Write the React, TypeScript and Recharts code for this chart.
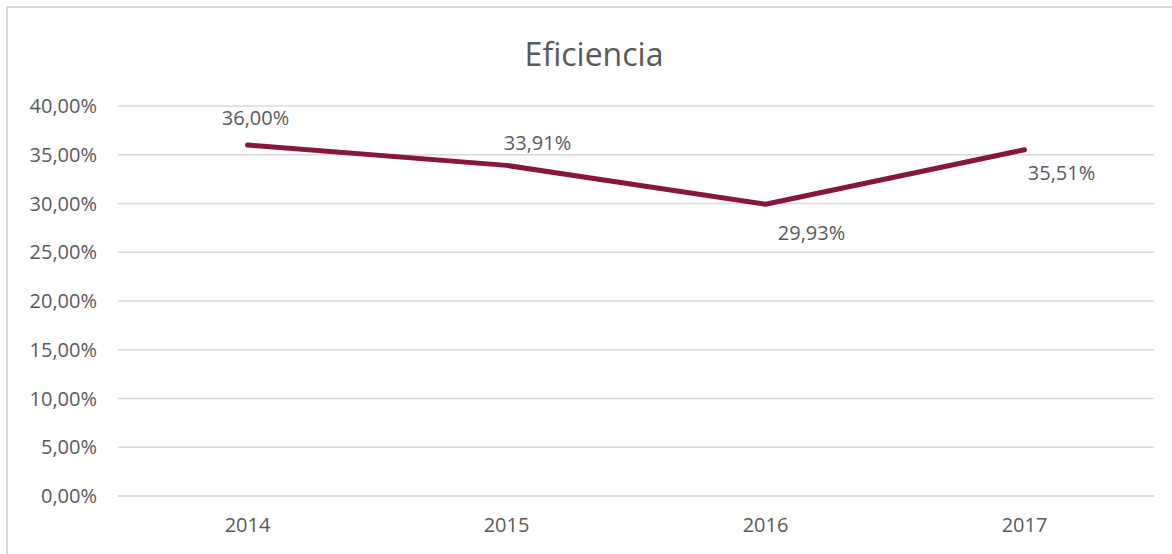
import { LineChart, Line, XAxis, YAxis, CartesianGrid, LabelList } from 'recharts';

// años y eficiencia (fracción)
const years = ['2014', '2015', '2016', '2017'];
const eficiencia = [0.36, 0.3391, 0.2993, 0.3551];
const yTicks = [0, 0.05, 0.1, 0.15, 0.2, 0.25, 0.3, 0.35, 0.4];

const data = years.map((year, i) => ({ year, value: eficiencia[i] }));

// desplazamiento de cada etiqueta respecto a su punto
const LABEL_OFFSETS = [
    { dx: 8, dy: -28 },
    { dx: 31, dy: -23 },
    { dx: 46, dy: 28 },
    { dx: 37, dy: 23 },
];

const TEXT = '#595959';
const FONT = '"Open Sans", sans-serif';

const fmt = (v: number) => (v * 100).toFixed(2).replace('.', ',') + '%';

const renderLabel = (props: any) => {
    const { x, y, value, index } = props;
    const off = LABEL_OFFSETS[index] || { dx: 0, dy: -20 };
    return (
        <text
            x={x + off.dx}
            y={y + off.dy}
            textAnchor="middle"
            dominantBaseline="central"
            fill={TEXT}
            fontSize={20}
            fontFamily={FONT}
        >
            {fmt(value)}
        </text>
    );
};

export default function App() {
    return (
        <div
            style={{
                position: 'absolute',
                left: 6,
                top: 6,
                borderLeft: '2px solid #d9d9d9',
                borderTop: '2px solid #d9d9d9',
                width: 1164,
                height: 548,
                background: '#fff',
            }}
        >
            <div
                style={{
                    position: 'absolute',
                    left: 0,
                    width: 1172,
                    top: 24,
                    textAlign: 'center',
                    fontFamily: FONT,
                    fontSize: 32,
                    color: TEXT,
                }}
            >
                Eficiencia
            </div>
            <LineChart
                width={1160}
                height={546}
                data={data}
                margin={{ top: 98, right: 14, bottom: 28, left: 10 }}
            >
                <CartesianGrid vertical={false} stroke="#d9d9d9" strokeWidth={1.5} />
                <XAxis
                    dataKey="year"
                    padding={{ left: 129.5, right: 129.5 }}
                    axisLine={{ stroke: '#d9d9d9', strokeWidth: 1.5 }}
                    tickLine={false}
                    tickMargin={16}
                    height={30}
                    tick={{ fill: TEXT, fontSize: 20, fontFamily: FONT }}
                />
                <YAxis
                    domain={[0, 0.4]}
                    ticks={yTicks}
                    tickFormatter={fmt}
                    axisLine={false}
                    tickLine={false}
                    tickMargin={15}
                    width={100}
                    tick={{ fill: TEXT, fontSize: 20, fontFamily: FONT }}
                />
                <Line
                    type="linear"
                    dataKey="value"
                    stroke="#86163A"
                    strokeWidth={5}
                    strokeLinecap="round"
                    strokeLinejoin="round"
                    dot={false}
                    activeDot={false}
                    isAnimationActive={false}
                >
                    <LabelList dataKey="value" content={renderLabel} />
                </Line>
            </LineChart>
        </div>
    );
}
